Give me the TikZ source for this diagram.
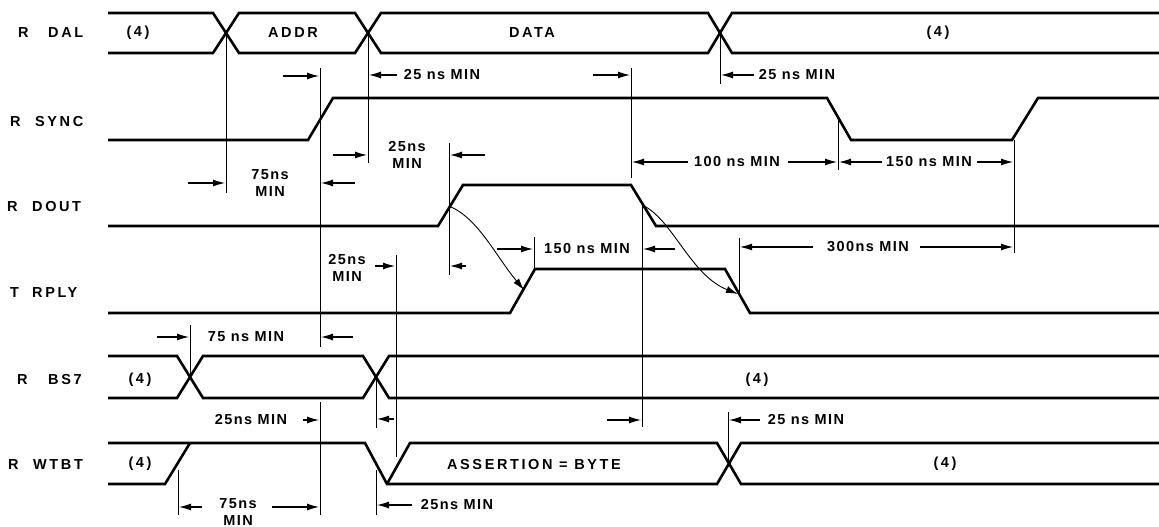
\documentclass[tikz,border=0pt]{standalone}
\usepackage{fontspec}
\usetikzlibrary{arrows.meta}
\newfontfamily\sigfont{Liberation Sans}[LetterSpace=18]
\newfontfamily\annfont{Liberation Sans}[LetterSpace=10]
\begin{document}
\begin{tikzpicture}[x=1pt,y=-1pt,
  sig/.style={line width=2.6pt, line join=miter},
  guide/.style={line width=0.8pt},
  dim/.style={line width=1.1pt, -{Latex[length=12pt,width=7pt]}},
  lab/.style={font=\sigfont\bfseries\fontsize{14.5}{17}\selectfont, inner sep=0pt},
  ann/.style={font=\annfont\bfseries\fontsize{14.5}{17}\selectfont, inner sep=0pt, align=center}]
\useasboundingbox (0,0) rectangle (1159,527);
\fill[white] (0,0) rectangle (1159,527);

% signal labels
\node[lab,anchor=west] (lr1) at (18,33) {R};   \node[lab,anchor=west] (ln1) at (48,33) {DAL};
\node[lab,anchor=west] (lr2) at (10,122) {R};  \node[lab,anchor=west] (ln2) at (35,122) {SYNC};
\node[lab,anchor=west] (lr3) at (7,207) {R};   \node[lab,anchor=west] (ln3) at (32,207) {DOUT};
\node[lab,anchor=west] (lr4) at (10,293) {T};  \node[lab,anchor=west] (ln4) at (32,293) {RPLY};
\node[lab,anchor=west] (lr5) at (17,380) {R};  \node[lab,anchor=west] (ln5) at (48,380) {BS7};
\node[lab,anchor=west] (lr6) at (8,465) {R};   \node[lab,anchor=west] (ln6) at (33,465) {WTBT};

% R DAL
\draw[sig] (108,13) -- (213,13) -- (239,53) -- (355,53) -- (381,13) -- (708,13) -- (732,53) -- (1159,53);
\draw[sig] (108,53) -- (213,53) -- (239,13) -- (355,13) -- (381,53) -- (708,53) -- (732,13) -- (1159,13);
\node[lab] (d1) at (138,33) {(4)};
\node[lab] (d2) at (293,33) {ADDR};
\node[lab] (d3) at (532,33) {DATA};
\node[lab] (d4) at (938,33) {(4)};

% R SYNC
\draw[sig] (108,140) -- (308,140) -- (333,98) -- (827,98) -- (851,140) -- (1012,140) -- (1038,98) -- (1159,98);
% R DOUT
\draw[sig] (108,226) -- (438,226) -- (463,185) -- (631,185) -- (656,226) -- (1159,226);
% T RPLY
\draw[sig] (108,313) -- (510,313) -- (535,269) -- (725,269) -- (750,313) -- (1159,313);
% R BS7
\draw[sig] (108,356) -- (177,356) -- (203,398) -- (363,398) -- (389,356) -- (1159,356);
\draw[sig] (108,398) -- (177,398) -- (203,356) -- (363,356) -- (389,398) -- (1159,398);
\node[lab] (b1) at (140,380) {(4)};
\node[lab] (b2) at (757,380) {(4)};
% R WTBT
\draw[sig] (108,443) -- (365,443) -- (387,484) -- (717,484) -- (741,443) -- (1159,443);
\draw[sig] (108,484) -- (165,484) -- (190,443);
\draw[sig] (387,484) -- (410,443) -- (717,443) -- (741,484) -- (1159,484);
\node[lab] (w1) at (140,464) {(4)};
\node[lab] (w2) at (534,465) {ASSERTION = BYTE};
\node[lab] (w3) at (945,464) {(4)};

% guide lines
\draw[guide] (226,33) -- (226,193);
\draw[guide] (368,33) -- (368,163);
\draw[guide] (320,68) -- (320,347);
\draw[guide] (320,402) -- (320,515);
\draw[guide] (449,143) -- (449,275);
\draw[guide] (631,68) -- (631,178);
\draw[guide] (720,33) -- (720,84);
\draw[guide] (838,119) -- (838,170);
\draw[guide] (1014,140) -- (1014,253);
\draw[guide] (642,205) -- (642,427);
\draw[guide] (534,237) -- (534,271);
\draw[guide] (739,238) -- (739,293);
\draw[guide] (396,255) -- (396,457);
\draw[guide] (190,325) -- (190,377);
\draw[guide] (376,377) -- (376,428);
\draw[guide] (376,470) -- (376,515);
\draw[guide] (178,470) -- (178,515);
\draw[guide] (728,412) -- (728,463);

% dimension arrows and labels
\draw[dim] (283,76) -- (319,76);
\draw[dim] (397,75) -- (369,75);
\node[ann] (t1) at (442,75) {25 ns MIN};
\draw[dim] (593,75) -- (630,75);
\draw[dim] (754,75) -- (721,75);
\node[ann] (t2) at (797,75) {25 ns MIN};

\draw[dim] (188,183) -- (225,183);
\node[ann] (t3) at (270,183) {75ns\\MIN};
\draw[dim] (355,183) -- (321,183);

\draw[dim] (333,155) -- (367,155);
\node[ann] (t4) at (407,155) {25ns\\MIN};
\draw[dim] (485,155) -- (450,155);

\draw[dim] (688,162) -- (632,162);
\node[ann] (t5) at (737,162) {100 ns MIN};
\draw[dim] (788,162) -- (837,162);
\draw[dim] (882,162) -- (839,162);
\node[ann] (t6) at (929,162) {150 ns MIN};
\draw[dim] (977,162) -- (1013,162);

\draw[dim] (497,249) -- (533,249);
\node[ann] (t7) at (587,249) {150 ns MIN};
\draw[dim] (675,249) -- (643,249);
\draw[dim] (466,266) -- (450,266);

\draw[dim] (813,247) -- (740,247);
\node[ann] (t8) at (868,247) {300ns MIN};
\draw[dim] (920,247) -- (1013,247);

\draw[dim] (375,266) -- (395,266);
\node[ann] (t9) at (347,268) {25ns\\MIN};

\draw[dim] (157,337) -- (189,337);
\node[ann] (t10) at (246,337) {75 ns MIN};
\draw[dim] (353,337) -- (321,337);

\node[ann] (t11) at (251,420) {25ns MIN};
\draw[dim] (303,420) -- (319,420);
\draw[dim] (394,419) -- (377,419);
\draw[dim] (607,420) -- (641,420);
\draw[dim] (760,420) -- (729,420);
\node[ann] (t12) at (806,420) {25 ns MIN};

\draw[dim] (202,507) -- (179,507);
\node[ann] (t13) at (238,512) {75ns\\MIN};
\draw[dim] (272,507) -- (319,507);
\draw[dim] (412,505) -- (377,505);
\node[ann] (t14) at (457,505) {25ns MIN};

% causal curves
\draw[dim, line width=0.9pt] (449,206) .. controls (478,218) and (495,255) .. (524,290);
\draw[dim, line width=0.9pt] (642,205) .. controls (672,218) and (690,275) .. (738,294);
\end{tikzpicture}
\end{document}
